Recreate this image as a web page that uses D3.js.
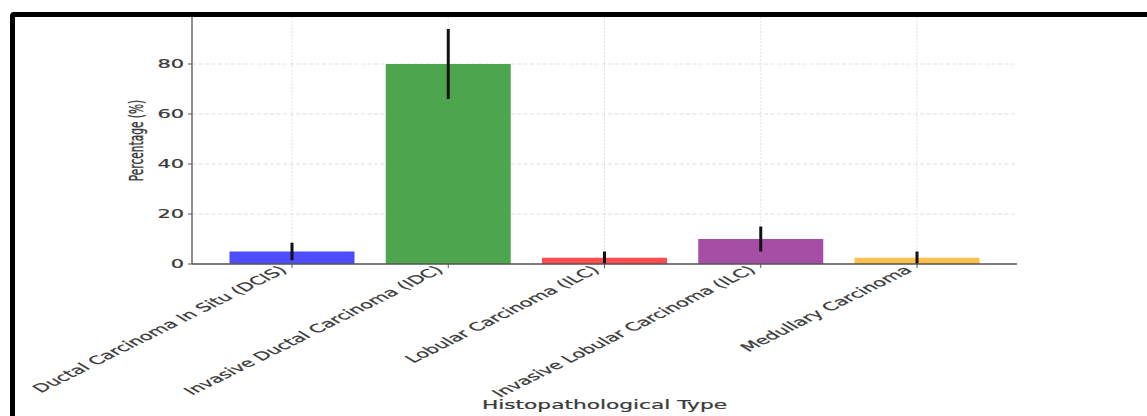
<!DOCTYPE html>
<html>
<head>
<meta charset="utf-8">
<script src="https://cdn.jsdelivr.net/npm/d3@7"></script>
<style>
  body { margin: 0; background: #fff; }
  svg text { font-family: "DejaVu Sans", sans-serif; fill: #3a3a3a; stroke: #3a3a3a; stroke-width: 0.25px; }
</style>
</head>
<body>
<svg id="chart"></svg>
<script>
// data
var categories = ["Ductal Carcinoma In Situ (DCIS)", "Invasive Ductal Carcinoma (IDC)",
                  "Lobular Carcinoma (ILC)", "Invasive Lobular Carcinoma (ILC)", "Medullary Carcinoma"];
var percentages = [5, 80, 2.5, 10, 2.5];
var errors = [3.5, 14, 2.5, 5, 2.5];
var barColors = ["#4d4dff", "#4da64d", "#ff4d4d", "#a64da6", "#ffc04d"];
var yTicks = [0, 20, 40, 60, 80];

var W = 1147, H = 416;
// the picture is stretched, text is squeezed the same way
var sx = 1.55, sy = 0.85;

var svg = d3.select("#chart").attr("width", W).attr("height", H);

var margin = {top: 17, left: 192, right: 1017, bottom: 264};

// set the ranges
var x = d3.scaleBand()
    .domain(categories)
    .range([margin.left, margin.right])
    .paddingInner(0.2)
    .paddingOuter(0.24);
var y = d3.scaleLinear()
    .domain([0, 98.8])
    .range([margin.bottom, margin.top]);

var data = categories.map(function(c, i) {
  return {cat: c, val: percentages[i], err: errors[i], color: barColors[i]};
});

// grid lines
svg.append("g").selectAll("line")
    .data(yTicks)
  .enter().append("line")
    .attr("x1", margin.left).attr("x2", margin.right)
    .attr("y1", function(d) { return y(d); })
    .attr("y2", function(d) { return y(d); })
    .attr("stroke", "#dcdcdc")
    .attr("stroke-width", 0.9)
    .attr("stroke-dasharray", "4,2.5");

svg.append("g").selectAll("line")
    .data(categories)
  .enter().append("line")
    .attr("x1", function(d) { return x(d) + x.bandwidth() / 2; })
    .attr("x2", function(d) { return x(d) + x.bandwidth() / 2; })
    .attr("y1", margin.bottom).attr("y2", margin.top)
    .attr("stroke", "#dcdcdc")
    .attr("stroke-width", 0.9)
    .attr("stroke-dasharray", "2,1.5");

// bars
svg.selectAll(".bar")
    .data(data)
  .enter().append("rect")
    .attr("class", "bar")
    .attr("x", function(d) { return x(d.cat); })
    .attr("width", x.bandwidth())
    .attr("y", function(d) { return y(d.val); })
    .attr("height", function(d) { return y(0) - y(d.val); })
    .attr("fill", function(d) { return d.color; });

// error bars
svg.selectAll(".err")
    .data(data)
  .enter().append("line")
    .attr("class", "err")
    .attr("x1", function(d) { return x(d.cat) + x.bandwidth() / 2; })
    .attr("x2", function(d) { return x(d.cat) + x.bandwidth() / 2; })
    .attr("y1", function(d) { return y(Math.max(0, d.val - d.err)); })
    .attr("y2", function(d) { return y(d.val + d.err); })
    .attr("stroke", "#111")
    .attr("stroke-width", 3);

// axes lines
svg.append("line")
    .attr("x1", margin.left).attr("x2", margin.left)
    .attr("y1", margin.top).attr("y2", margin.bottom)
    .attr("stroke", "#555").attr("stroke-width", 1.3);
svg.append("line")
    .attr("x1", margin.left).attr("x2", margin.right)
    .attr("y1", margin.bottom).attr("y2", margin.bottom)
    .attr("stroke", "#555").attr("stroke-width", 1.3);

// y ticks
var yt = svg.append("g").selectAll("g")
    .data(yTicks)
  .enter().append("g")
    .attr("transform", function(d) { return "translate(" + margin.left + "," + y(d) + ")"; });
yt.append("line").attr("x1", -4).attr("x2", 0).attr("stroke", "#555");
yt.append("text")
    .attr("transform", "translate(-8,0) scale(" + sx + "," + sy + ")")
    .attr("text-anchor", "end")
    .attr("dy", "0.36em")
    .style("font-size", "13.5px")
    .text(function(d) { return d; });

// x ticks
var xt = svg.append("g").selectAll("g")
    .data(categories)
  .enter().append("g")
    .attr("transform", function(d) { return "translate(" + (x(d) + x.bandwidth() / 2) + "," + margin.bottom + ")"; });
xt.append("line").attr("y1", 0).attr("y2", 4).attr("stroke", "#555");
xt.append("text")
    .attr("transform", "translate(-9,4) scale(" + sx + "," + sy + ") rotate(-42)")
    .attr("text-anchor", "end")
    .attr("dy", "0.36em")
    .style("font-size", "13.5px")
    .text(function(d) { return d; });

// axis titles
svg.append("text")
    .attr("transform", "translate(" + (margin.left + margin.right) / 2 + ",409) scale(" + sx + "," + sy + ")")
    .attr("text-anchor", "middle")
    .style("font-size", "14px")
    .text("Histopathological Type");

svg.append("text")
    .attr("transform", "translate(143," + (margin.top + margin.bottom) / 2 + ") scale(" + sx + "," + sy + ") rotate(-90)")
    .attr("text-anchor", "middle")
    .style("font-size", "12.5px")
    .text("Percentage (%)");

// black frame round the picture
svg.append("path")
    .attr("d", "M12.5,420 L12.5,16 Q12.5,14.5 14,14.5 L1150,14.5")
    .attr("fill", "none")
    .attr("stroke", "#000")
    .attr("stroke-width", 5);
</script>
</body>
</html>
